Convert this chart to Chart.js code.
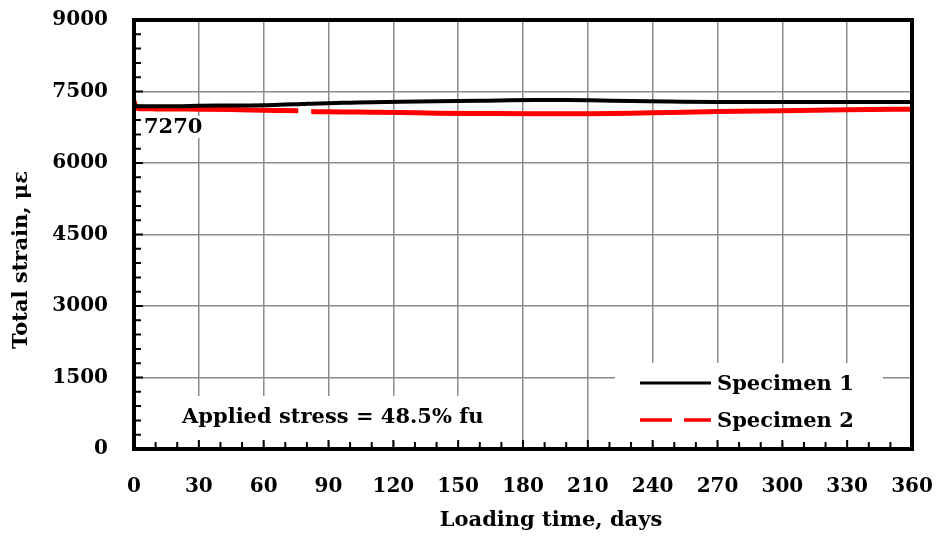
<!DOCTYPE html>
<html>
<head>
<meta charset="utf-8">
<script src="https://cdn.jsdelivr.net/npm/chart.js@4/dist/chart.umd.min.js"></script>
<style>
    html, body { margin: 0; padding: 0; background: #ffffff; }
    #wrap { width: 940px; height: 537px; }
</style>
</head>
<body>
<div id="wrap"><canvas id="chartStrain"></canvas></div>
<script>
// Data
const days = [0, 1, 2, 10, 20, 30, 45, 60, 70, 76, 79, 82, 90, 100, 110, 123, 140, 160, 185, 200, 211, 230, 248, 270, 300, 330, 360];
const specimen1 = [7250, 7195, 7190, 7190, 7190, 7200, 7205, 7210, 7225, 7235, 7240, 7245, 7255, 7265, 7275, 7285, 7295, 7305, 7320, 7320, 7315, 7300, 7290, 7280, 7278, 7278, 7280];
const specimen2 = [7300, 7160, 7145, 7135, 7132, 7130, 7122, 7108, 7100, 7095, null, 7078, 7075, 7070, 7065, 7058, 7045, 7038, 7032, 7032, 7034, 7045, 7062, 7078, 7098, 7115, 7130];
const seriesNames = ['Specimen 1', 'Specimen 2'];
const xTicks = [0, 30, 60, 90, 120, 150, 180, 210, 240, 270, 300, 330, 360];
const yTicks = [0, 1500, 3000, 4500, 6000, 7500, 9000];

const fontFamily = '"DejaVu Serif", "Liberation Serif", serif';

function points(vals) {
    return days.map((d, i) => ({ x: d, y: vals[i] }));
}

// Extra drawing: frame, minor ticks, legend, notes
const extrasPlugin = {
    id: 'extras',
    beforeDatasetsDraw(chart) {
        // white boxes behind legend and notes (cover the grid only)
        const ctx = chart.ctx;
        ctx.save();
        ctx.fillStyle = '#ffffff';
        ctx.fillRect(615, 363, 268, 80);
        ctx.fillRect(170, 396, 332, 46);
        ctx.fillRect(141, 116, 68, 22);
        ctx.restore();
    },
    afterDraw(chart) {
        const ctx = chart.ctx;
        const area = chart.chartArea;
        const xs = chart.scales.x;
        const ys = chart.scales.y;
        ctx.save();

        // inward tick marks
        ctx.strokeStyle = '#000000';
        ctx.lineWidth = 2;
        ctx.beginPath();
        for (let d = 10; d < 360; d += 10) {
            const px = xs.getPixelForValue(d);
            const len = d % 30 === 0 ? 9 : 7;
            ctx.moveTo(px, area.bottom);
            ctx.lineTo(px, area.bottom - len);
        }
        for (let v = 300; v < 9000; v += 300) {
            const py = ys.getPixelForValue(v);
            const len = v % 1500 === 0 ? 9 : 7;
            ctx.moveTo(area.left, py);
            ctx.lineTo(area.left + len, py);
        }
        ctx.stroke();

        // frame
        ctx.lineWidth = 4;
        ctx.strokeRect(area.left, area.top, area.right - area.left, area.bottom - area.top);

        // legend
        const ds = chart.data.datasets;
        const legendRows = [383, 420];
        ctx.font = 'bold 21px ' + fontFamily;
        ctx.textBaseline = 'middle';
        ctx.textAlign = 'left';
        ds.forEach((set, i) => {
            const y = legendRows[i];
            ctx.strokeStyle = set.borderColor;
            ctx.lineWidth = i === 0 ? 3 : 3.5;
            ctx.setLineDash(i === 0 ? [] : [32, 12]);
            ctx.beginPath();
            ctx.moveTo(640, y);
            ctx.lineTo(711, y);
            ctx.stroke();
            ctx.setLineDash([]);
            ctx.fillStyle = '#000000';
            ctx.fillText(set.label, 717, y + 2);
        });

        // notes
        ctx.fillStyle = '#000000';
        ctx.fillText('7270', 144, 128);
        ctx.fillText('Applied stress = 48.5% fu', 182, 418);

        // axis titles
        ctx.textAlign = 'center';
        ctx.fillText('Loading time, days', 551, 521);
        ctx.translate(22, 260);
        ctx.rotate(-Math.PI / 2);
        ctx.fillText('Total strain, \u03bc\u03b5', 0, 0);

        ctx.restore();
    }
};

const ctx = document.getElementById('chartStrain');
new Chart(ctx, {
    type: 'line',
    data: {
        datasets: [{
            label: seriesNames[0],
            data: points(specimen1),
            borderColor: '#000000',
            borderWidth: 4,
            pointRadius: 0,
            cubicInterpolationMode: 'monotone',
            spanGaps: false
        }, {
            label: seriesNames[1],
            data: points(specimen2),
            borderColor: '#ff0000',
            borderWidth: 5,
            pointRadius: 0,
            cubicInterpolationMode: 'monotone',
            spanGaps: false
        }]
    },
    options: {
        responsive: true,
        maintainAspectRatio: false,
        animation: false,
        layout: {
            autoPadding: false,
            padding: { top: 20, right: 28, bottom: 0, left: 0 }
        },
        plugins: {
            legend: { display: false },
            tooltip: { enabled: false }
        },
        scales: {
            x: {
                type: 'linear',
                min: 0,
                max: 360,
                afterFit: function(scale) {
                    scale.height = 88;
                    scale.paddingLeft = 0;
                    scale.paddingRight = 0;
                },
                afterBuildTicks: function(scale) {
                    scale.ticks = xTicks.map(v => ({ value: v }));
                },
                border: { display: false },
                grid: { color: '#8c8c8c', lineWidth: 1.5, drawTicks: false },
                ticks: {
                    padding: 26,
                    color: '#000000',
                    font: { size: 20, weight: 'bold', family: fontFamily },
                    maxRotation: 0,
                    callback: function(value) { return String(value); }
                }
            },
            y: {
                min: 0,
                max: 9000,
                afterFit: function(scale) {
                    scale.width = 134;
                    scale.paddingTop = 0;
                    scale.paddingBottom = 0;
                },
                afterBuildTicks: function(scale) {
                    scale.ticks = yTicks.map(v => ({ value: v }));
                },
                border: { display: false },
                grid: { color: '#8c8c8c', lineWidth: 1.5, drawTicks: false },
                ticks: {
                    padding: 26,
                    color: '#000000',
                    font: { size: 20, weight: 'bold', family: fontFamily },
                    callback: function(value) { return String(value); }
                }
            }
        }
    },
    plugins: [extrasPlugin]
});
</script>
</body>
</html>
